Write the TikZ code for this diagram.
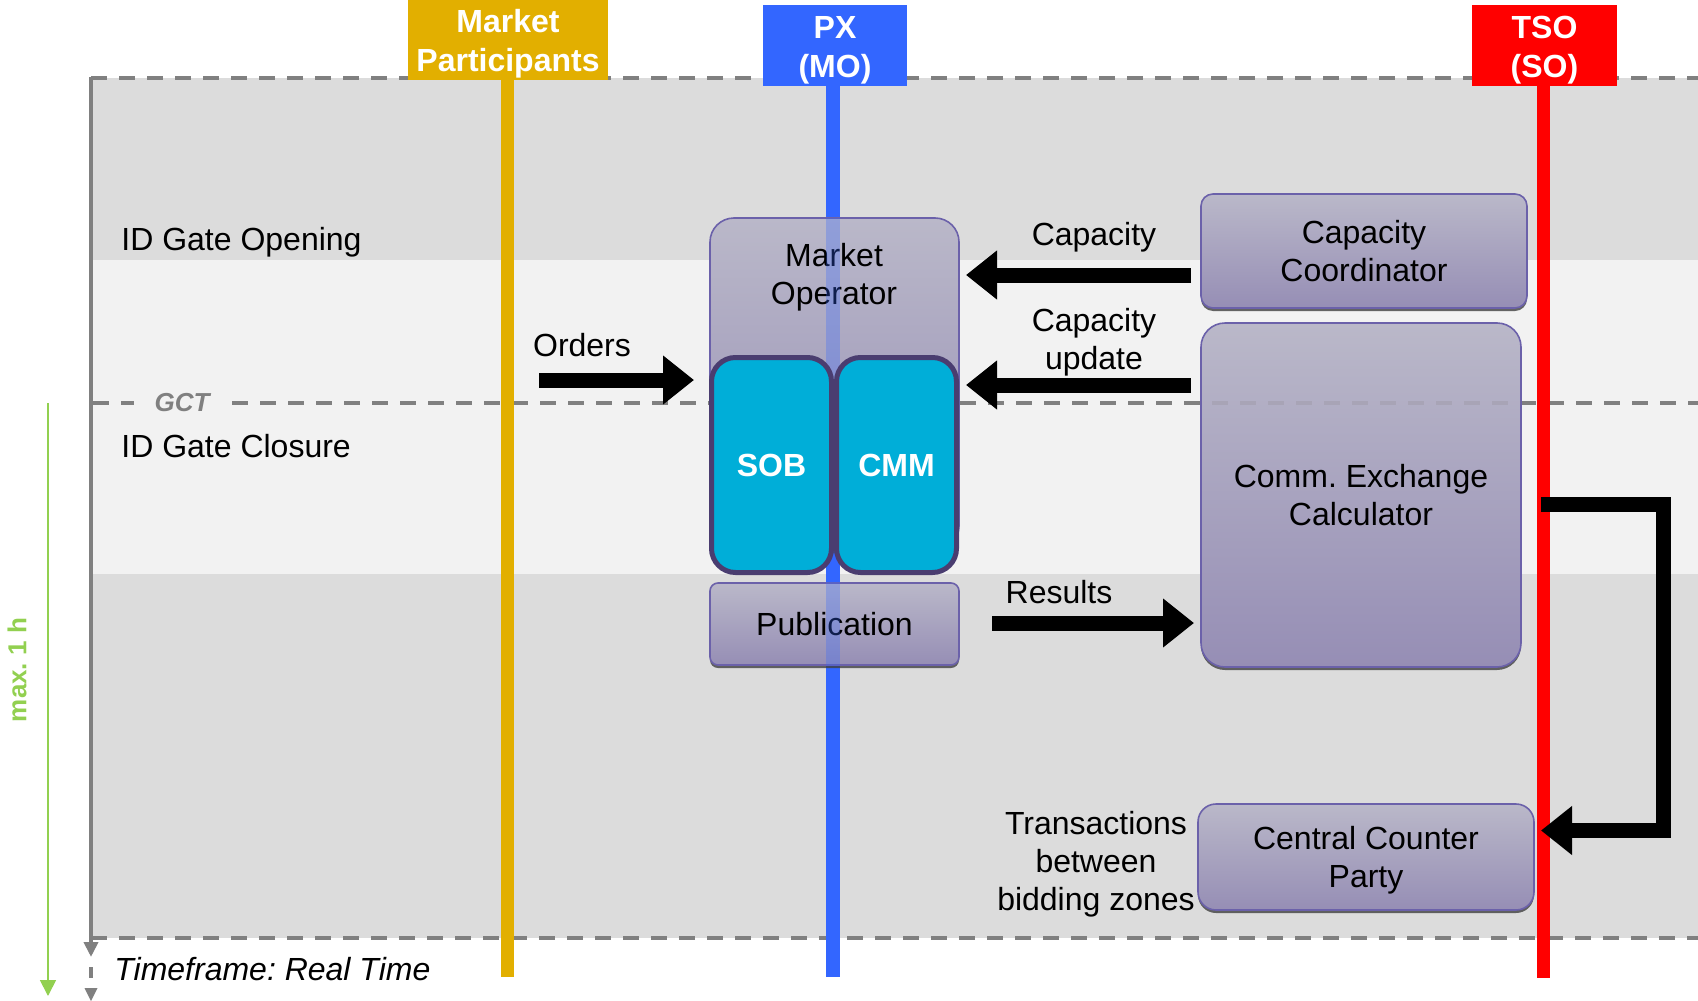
\documentclass[tikz,border=0pt]{standalone}
\usepackage{fontspec}
\setmainfont{Liberation Sans}
\frenchspacing
\usetikzlibrary{arrows.meta,shadows}
\definecolor{banddark}{HTML}{DCDCDC}
\definecolor{bandlight}{HTML}{F2F2F2}
\definecolor{dashgray}{HTML}{808080}
\definecolor{mpyellow}{HTML}{E2AF00}
\definecolor{pxblue}{HTML}{3366FF}
\definecolor{tsored}{HTML}{FF0000}
\definecolor{boxtop}{HTML}{BAB8C9}
\definecolor{boxbot}{HTML}{968EB5}
\definecolor{boxborder}{HTML}{6B61AA}
\definecolor{sobfill}{HTML}{00AED8}
\definecolor{sobborder}{HTML}{4A3D70}
\definecolor{maxgreen}{HTML}{92D050}
\begin{document}
\begin{tikzpicture}[x=0.5pt,y=-0.5pt,
  txt/.style={font=\fontsize{16}{19}\selectfont, inner sep=0pt, align=center},
  headtxt/.style={font=\fontsize{16}{19.5}\selectfont\bfseries, text=white, inner sep=0pt, align=center},
  headbox/.style={inner sep=0pt},
  procbox/.style={draw=boxborder, line width=0.8pt, top color=boxtop, bottom color=boxbot, inner sep=0pt,
     font=\fontsize{16}{19}\selectfont, align=center,
     drop shadow={shadow xshift=0pt, shadow yshift=-1.5pt, fill=black!75, opacity=0.8}},
  engine/.style={draw=sobborder, line width=2.5pt, fill=sobfill, rounded corners=12pt, minimum width=60pt,
     minimum height=107.5pt, inner sep=0pt, font=\fontsize{16}{19}\selectfont\bfseries, text=white},
  dashline/.style={draw=dashgray, line width=2pt, dash pattern=on 8pt off 6pt},
  lifeline/.style={line width=6.5pt},
  blk/.style={draw=black, line width=7.5pt, -{Triangle[length=15.5pt,width=23.5pt]}},
]
\useasboundingbox (0,0) rectangle (1698,1001);
% time bands
\fill[banddark] (91,78) rectangle (1698,260);
\fill[bandlight] (91,260) rectangle (1698,574);
\fill[banddark] (91,574) rectangle (1698,938);
% dashed time lines
\draw[dashline] (91,78) -- (1698,78);
\draw[dashline] (93,403) -- (134,403);
\draw[dashline] (232,403) -- (1698,403);
\draw[dashline] (91,938) -- (1698,938);
\node[font=\fontsize{13}{15}\selectfont\bfseries\itshape, text=dashgray, inner sep=0pt] (gct) at (182,403) {GCT};
% time axis
\draw[dashgray, line width=2pt, -{Triangle[length=7.5pt,width=7pt]}] (91,77) -- (91,957);
\draw[dashgray, line width=2pt] (91,967) -- (91,978);
\fill[dashgray] (84.5,988) -- (97.5,988) -- (91,1001) -- cycle;
\draw[maxgreen, line width=0.9pt, -{Triangle[length=8pt,width=8pt]}] (48,403) -- (48,996);
\node[rotate=90, font=\fontsize{13}{15}\selectfont\bfseries, text=maxgreen, inner sep=0pt] (maxh) at (17,670) {max. 1 h};
% phase labels
\node[txt, anchor=base west] (idgo) at (121,250) {ID Gate Opening};
\node[txt, anchor=base west] (idgc) at (121,457) {ID Gate Closure};
\node[txt, anchor=base west, font=\fontsize{16}{19}\selectfont\itshape] (tf) at (114,980) {Timeframe: Real Time};
% headers
\node[headbox, fill=mpyellow, minimum width=100pt, minimum height=40pt] (mp) at (508,40) {};
\node[headbox, fill=pxblue, minimum width=72pt, minimum height=40.5pt] (px) at (835,45.5) {};
\node[headbox, fill=tsored, minimum width=72.5pt, minimum height=40.5pt] (tso) at (1544.5,45.5) {};
\node[headtxt, anchor=base] (mptxt) at (508,71) {Market\\Participants};
\node[headtxt, anchor=base] (pxtxt) at (835,77) {PX\\(MO)};
\node[headtxt, anchor=base] (tsotxt) at (1544.5,77) {TSO\\(SO)};
\coordinate (mpend) at (507,977);
\coordinate (pxend) at (833,977);
\coordinate (tsoend) at (1543,978);
\draw[mpyellow, lifeline] (mp.south -| mpend) -- (mpend);
\draw[pxblue, lifeline, line width=7pt] (px.south -| pxend) -- (pxend);
\draw[tsored, lifeline] (tso.south -| tsoend) -- (tsoend);
% process boxes
\node[procbox, rounded corners=12pt, minimum width=124.5pt, minimum height=166pt] (mo) at (834.5,384) {};
\node[txt, anchor=base] (motext) at (834,304) {Market\\Operator};
\node[procbox, rounded corners=4pt, minimum width=124.5pt, minimum height=41pt] (pub) at (834.5,624) {Publication};
\node[procbox, rounded corners=6pt, minimum width=163pt, minimum height=57pt] (cc) at (1364,251) {Capacity\\Coordinator};
\node[procbox, rounded corners=12pt, minimum width=160pt, minimum height=172pt] (cec) at (1361,495) {Comm. Exchange\\Calculator};
\node[procbox, rounded corners=9pt, minimum width=168pt, minimum height=53pt, text depth=0pt] (ccp) at (1366,857) {Central Counter\\Party};
% overlays seen through the boxes
\draw[pxblue, line width=7pt, opacity=0.3] (833,218) -- (833,666);
\begin{scope}
\clip (1201,323) rectangle (1521,667);
\draw[dashline, opacity=0.2] (232,403) -- (1698,403);
\end{scope}
% order books
\node[engine] (sob) at (771.5,465) {SOB};
\node[engine] (cmm) at (896.5,465) {CMM};
% arrows and labels
\coordinate (ordS) at (539,380);
\coordinate (ordE) at (694,380);
\draw[blk] (ordS) -- (ordE);
\node[txt, anchor=base] (orders) at (582,356) {Orders};
\coordinate (capS) at (1191,275);
\coordinate (capE) at (966,275);
\draw[blk] (capS) -- (capE);
\node[txt, anchor=base] (caplab) at (1094,245) {Capacity};
\coordinate (updS) at (1191,385);
\coordinate (updE) at (966,385);
\draw[blk] (updS) -- (updE);
\node[txt, anchor=base] (updlab) at (1094,369) {Capacity\\update};
\coordinate (resS) at (992,623);
\coordinate (resE) at (1194,623);
\draw[blk] (resS) -- (resE);
\node[txt, anchor=base] (reslab) at (1059,603) {Results};
\coordinate (trS) at (1541,504);
\coordinate (trE) at (1541,830.5);
\draw[blk] (trS) -- (1663,504) -- (1663,830.5) -- (trE);
\node[txt, anchor=base] (trlab) at (1096,910) {Transactions\\between\\bidding zones};
\end{tikzpicture}
\end{document}
